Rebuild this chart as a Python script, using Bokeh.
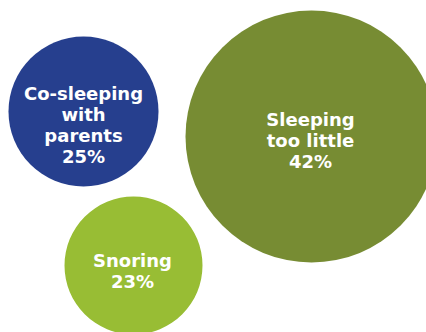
from bokeh.plotting import figure
from bokeh.models import ColumnDataSource, Range1d
from bokeh.core.properties import value
from bokeh.embed import file_html
from bokeh.resources import INLINE

# Data
categories = ["Co-sleeping\nwith\nparents", "Sleeping\ntoo little", "Snoring"]
percentages = [25, 42, 23]

# Layout (bubble centres and label centres, in pixels)
centre_x = [83, 311, 133]
centre_y = [111, 136, 265]
label_x = [83, 310, 132]
label_y = [124, 140, 270]
colors = ["#263F8E", "#778C33", "#98BD34"]
radius_per_pct = 3.0

labels = [f"{c}\n{v}%" for c, v in zip(categories, percentages)]
radii = [v * radius_per_pct for v in percentages]

src = ColumnDataSource(dict(x=centre_x, y=centre_y, r=radii, color=colors,
                            lx=label_x, ly=label_y, label=labels))

W, H = 426, 332
p = figure(width=W, height=H, output_backend="svg", toolbar_location=None,
           x_range=Range1d(0, W), y_range=Range1d(H, 0),
           min_border=0, outline_line_color=None)
p.axis.visible = False
p.grid.visible = False
p.background_fill_color = "white"
p.border_fill_color = "white"

p.circle(x="x", y="y", radius="r", fill_color="color", line_color=None, source=src)
p.text(x="lx", y="ly", text="label", source=src, text_color="white",
       text_font=value("DejaVu Sans"), text_font_style="bold",
       text_font_size="18px", text_align="center", text_baseline="middle",
       text_line_height=1.0)

open("out.html", "w").write(file_html(p, INLINE))
